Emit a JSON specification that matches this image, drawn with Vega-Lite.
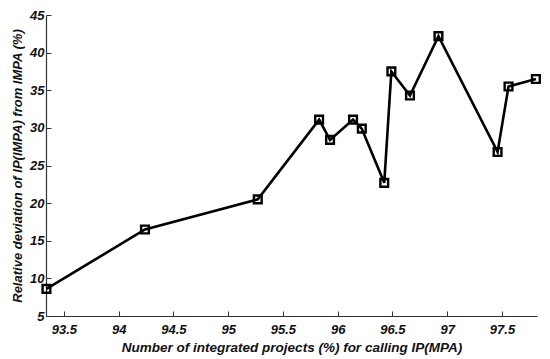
{
  "$schema": "https://vega.github.io/schema/vega-lite/v6.json",
  "width": 491,
  "height": 301,
  "autosize": {"type": "none"},
  "padding": {"left": 46, "top": 15, "right": 13, "bottom": 43},
  "background": "white",
  "data": {"values": [
    {"x": 93.34, "y": 8.6},
    {"x": 94.24, "y": 16.5},
    {"x": 95.27, "y": 20.5},
    {"x": 95.83, "y": 31.1},
    {"x": 95.93, "y": 28.4},
    {"x": 96.14, "y": 31.1},
    {"x": 96.22, "y": 29.9},
    {"x": 96.425, "y": 22.7},
    {"x": 96.49, "y": 37.5},
    {"x": 96.66, "y": 34.3},
    {"x": 96.92, "y": 42.2},
    {"x": 97.46, "y": 26.8},
    {"x": 97.56, "y": 35.5},
    {"x": 97.81, "y": 36.5}
  ]},
  "config": {
    "view": {"stroke": null},
    "axis": {
      "grid": false,
      "domainColor": "#333",
      "domainWidth": 1.2,
      "tickColor": "#333",
      "tickSize": -5,
      "labelFont": "Liberation Sans",
      "labelFontWeight": "bold",
      "labelFontStyle": "italic",
      "labelFontSize": 13,
      "labelColor": "#111",
      "titleFont": "Liberation Sans",
      "titleFontWeight": "bold",
      "titleFontStyle": "italic",
      "titleColor": "#111"
    }
  },
  "encoding": {
    "x": {
      "field": "x", "type": "quantitative",
      "scale": {"domain": [93.336, 97.82], "nice": false, "zero": false},
      "axis": {"values": [93.5, 94, 94.5, 95, 95.5, 96, 96.5, 97, 97.5], "format": "~g", "labelPadding": 12, "title": "Number of integrated projects (%) for calling IP(MPA)", "titleFontSize": 13.5, "titlePadding": 4, "labelFlush": false}
    },
    "y": {
      "field": "y", "type": "quantitative",
      "scale": {"domain": [5, 45], "nice": false, "zero": false},
      "axis": {"values": [5, 10, 15, 20, 25, 30, 35, 40, 45], "labelPadding": 7, "title": "Relative deviation of IP(IMPA) from IMPA (%)", "titleFontSize": 13, "titlePadding": 5, "labelFlush": false}
    }
  },
  "layer": [
    {"mark": {"type": "line", "color": "black", "strokeWidth": 2.6}},
    {"mark": {"type": "point", "shape": "square", "filled": false, "color": "black", "strokeWidth": 2.4, "size": 60, "opacity": 1}}
  ]
}
